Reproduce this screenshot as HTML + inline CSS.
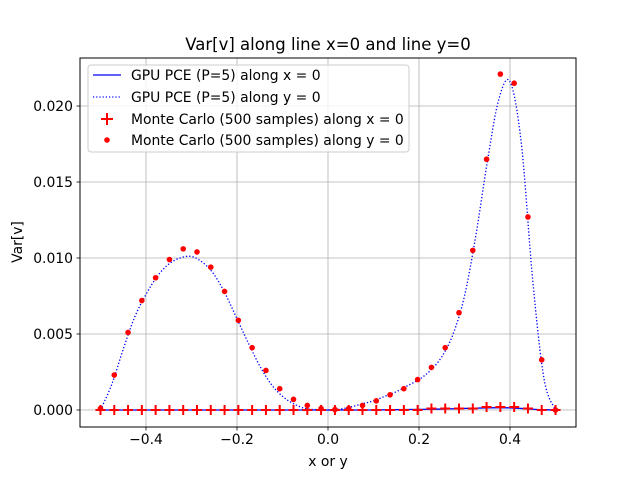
<!DOCTYPE html>
<html><head><meta charset="utf-8"><style>
body{margin:0;background:#fff;font-family:"DejaVu Sans","Liberation Sans",sans-serif}
svg text{font-family:"DejaVu Sans","Liberation Sans",sans-serif}
</style></head><body>
<svg id="c" width="640" height="480" viewBox="0 0 640 480" xmlns="http://www.w3.org/2000/svg">
<rect width="640" height="480" fill="#fff"/>
<g id="grid"></g>
<g id="series"></g>
<rect x="80" y="58" width="496" height="369" fill="none" stroke="#000" stroke-width="1"/>
<g id="ticks"></g>
<text x="328" y="50" font-size="16.5" text-anchor="middle">Var[v] along line x=0 and line y=0</text>
<text x="328" y="466" font-size="13.9" text-anchor="middle">x or y</text>
<text x="22" y="242" font-size="13.9" text-anchor="middle" transform="rotate(-90 22 242)">Var[v]</text>
<g>
<rect x="88" y="65" width="321" height="87" rx="3" fill="#fff" fill-opacity="0.8" stroke="#ccc"/>
<line x1="93" y1="75" x2="121" y2="75" stroke="#0000ff" stroke-width="1.2"/>
<text x="131" y="80" font-size="13.9">GPU PCE (P=5) along x = 0</text>
<line x1="93" y1="97" x2="121" y2="97" stroke="#0000ff" stroke-width="1.2" stroke-dasharray="1.2,2"/>
<text x="131" y="102" font-size="13.9">GPU PCE (P=5) along y = 0</text>
<path d="M101 119h12M107 113v12" stroke="#ff0000" stroke-width="2"/>
<text x="131" y="124" font-size="13.9">Monte Carlo (500 samples) along x = 0</text>
<circle cx="107" cy="140" r="2.8" fill="#ff0000"/>
<text x="131" y="145" font-size="13.9">Monte Carlo (500 samples) along y = 0</text>
</g>
</svg>
<script>
const xTicks=[-0.4,-0.2,0.0,0.2,0.4];
const xTickLabels=["−0.4","−0.2","0.0","0.2","0.4"];
const yTicks=[0,0.005,0.010,0.015,0.020];
const yTickLabels=["0.000","0.005","0.010","0.015","0.020"];
const curveX=[-0.5,-0.475,-0.45,-0.425,-0.4,-0.375,-0.35,-0.325,-0.3,-0.275,-0.25,-0.225,-0.2,-0.175,-0.15,-0.125,-0.1,-0.075,-0.05,-0.025,0,0.025,0.05,0.075,0.1,0.125,0.15,0.175,0.2,0.225,0.25,0.275,0.3,0.325,0.35,0.375,0.4,0.425,0.45,0.475,0.5];
const pceY=[0,0.0017,0.0040,0.0061,0.0076,0.0088,0.0096,0.0100,0.0101,0.0097,0.0089,0.0076,0.0060,0.0044,0.0029,0.0017,0.0009,0.0004,0.0001,0.00002,0,0.00005,0.0002,0.0004,0.0006,0.0009,0.0012,0.0016,0.0020,0.0026,0.0035,0.0050,0.0075,0.0115,0.0163,0.0204,0.0216,0.0175,0.0085,0.0020,0];
const pceX=[0,0,0,0,0,0,0,0,0,0,0,0,0,0,0,0,0,0,0,0,0,0,0,0,0,0.00001,0.00002,0.00003,0.00004,0.00005,0.00006,0.00008,0.0001,0.00012,0.00014,0.00015,0.00014,0.0001,0.00005,0.00002,0];
const mcPos=[-0.5,-0.4697,-0.4394,-0.4091,-0.3788,-0.3485,-0.3182,-0.2879,-0.2576,-0.2273,-0.1970,-0.1667,-0.1364,-0.1061,-0.0758,-0.0455,-0.0152,0.0152,0.0455,0.0758,0.1061,0.1364,0.1667,0.1970,0.2273,0.2576,0.2879,0.3182,0.3485,0.3788,0.4091,0.4394,0.4697,0.5];
const mcY=[0.0001,0.0023,0.0051,0.0072,0.0087,0.0099,0.0106,0.0104,0.0094,0.0078,0.0059,0.0041,0.0026,0.0014,0.0007,0.0003,0.0001,0.00003,0.0001,0.0003,0.0006,0.0010,0.0014,0.0020,0.0028,0.0041,0.0064,0.0105,0.0165,0.0221,0.0215,0.0127,0.0033,0.0];
const mcX=[0,0,0,0,0,0,0,0,0,0,0,0,0,0,0,0,0,0,0,0,0,0,0,0,0.0001,0.0001,0.0001,0.0001,0.0002,0.0002,0.0002,0.0001,0,0];
const NS="http://www.w3.org/2000/svg";
const X0=80,X1=576,Y0=58,Y1=427,xmin=-0.545,xmax=0.545,ymin=-0.00112,ymax=0.02316;
function sx(v){return X0+(v-xmin)/(xmax-xmin)*(X1-X0);}
function sy(v){return Y1-(v-ymin)/(ymax-ymin)*(Y1-Y0);}
function mk(tag,attrs,parent){const e=document.createElementNS(NS,tag);for(const k in attrs)e.setAttribute(k,attrs[k]);document.getElementById(parent).appendChild(e);return e;}
xTicks.forEach((t,i)=>{
 let g=mk('line',{x1:sx(t),x2:sx(t),y1:Y0,y2:Y1,stroke:'#b0b0b0','stroke-width':0.8},'grid');
 
 
 let k=mk('line',{x1:sx(t),x2:sx(t),y1:Y1,y2:Y1+3.5,stroke:'#000','stroke-width':0.8},'ticks');
 
 
 let l=mk('text',{x:sx(t),y:Y1+17,'font-size':13.9,'text-anchor':'middle'},'ticks');l.textContent=xTickLabels[i];
 
 
});
yTicks.forEach((t,i)=>{
 let g=mk('line',{x1:X0,x2:X1,y1:sy(t),y2:sy(t),stroke:'#b0b0b0','stroke-width':0.8},'grid');
 
 
 let k=mk('line',{x1:X0-3.5,x2:X0,y1:sy(t),y2:sy(t),stroke:'#000','stroke-width':0.8},'ticks');
 
 
 let l=mk('text',{x:X0-7,y:sy(t)+5,'font-size':13.9,'text-anchor':'end'},'ticks');l.textContent=yTickLabels[i];
 
 
});
function smooth(xs,ys){const p=xs.map((x,i)=>[sx(x),sy(ys[i])]);let d='M'+p[0][0]+' '+p[0][1];
 for(let i=0;i<p.length-1;i++){const a=p[Math.max(0,i-1)],b=p[i],c=p[i+1],e=p[Math.min(p.length-1,i+2)];
 d+=' C'+(b[0]+(c[0]-a[0])/6)+' '+(b[1]+(c[1]-a[1])/6)+' '+(c[0]-(e[0]-b[0])/6)+' '+(c[1]-(e[1]-b[1])/6)+' '+c[0]+' '+c[1];}return d;}
let l1=mk('path',{d:smooth(curveX,pceX),fill:'none',stroke:'#0000ff','stroke-width':1.3},'series');


let l2=mk('path',{d:smooth(curveX,pceY),fill:'none',stroke:'#0000ff','stroke-width':1.3,'stroke-dasharray':'1.3,2'},'series');


mcPos.forEach((x,i)=>{
 const cx=sx(x),cy=sy(mcX[i]);
 let p=mk('path',{d:`M${cx-5} ${cy}h10M${cx} ${cy-5}v10`,stroke:'#ff0000','stroke-width':2},'series');
 
 
});
mcPos.forEach((x,i)=>{
 let c=mk('circle',{cx:sx(x),cy:sy(mcY[i]),r:2.8,fill:'#ff0000'},'series');
 
 
});
</script>
</body></html>
